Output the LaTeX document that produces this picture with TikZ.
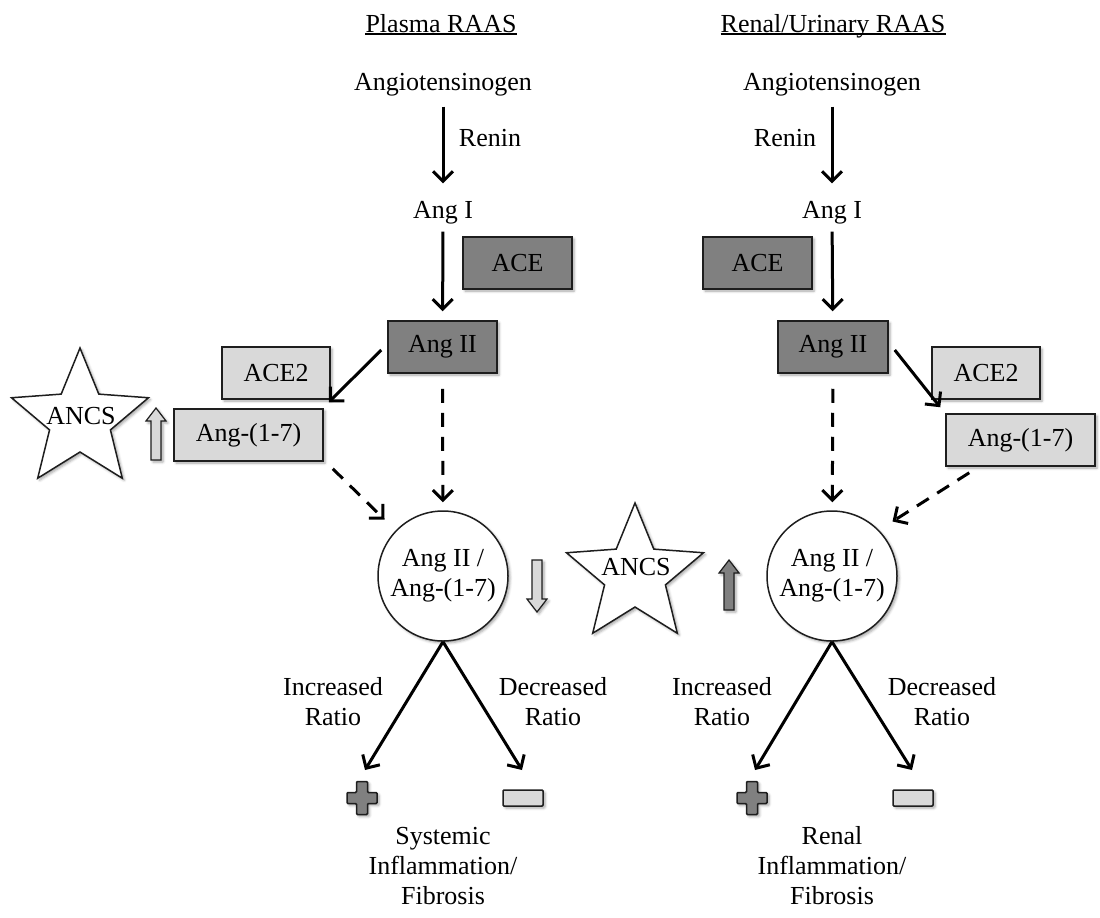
\documentclass[tikz,border=0pt]{standalone}
\usepackage{fontspec}
\setmainfont{Liberation Serif}
\usetikzlibrary{arrows.meta,shadows.blur}
\definecolor{darkbox}{RGB}{128,128,128}
\definecolor{lightbox}{RGB}{217,217,217}
\definecolor{edge}{RGB}{30,30,30}
\tikzset{
  lbl/.style={font=\fontsize{26}{30}\selectfont, inner sep=0pt, align=center},
  shd/.style={blur shadow={shadow xshift=2pt,shadow yshift=-2pt,shadow blur radius=2.5pt,shadow opacity=35}},
  boxbase/.style={lbl, draw=edge, line width=1.5pt, minimum height=52pt, shd},
  darkb/.style={boxbase, fill=darkbox},
  lightb/.style={boxbase, fill=lightbox},
  ring/.style={lbl, circle, draw=edge, line width=1.5pt, fill=white, minimum size=130pt, shd},
  starshape/.style={draw=edge, line width=1.5pt, fill=white, line join=miter, shd},
  arr/.style={line width=3pt, -{Straight Barb[length=10pt,width=20pt]}},
  darr/.style={arr, dash pattern=on 14pt off 10pt},
  hollow/.style={draw=edge, line width=1.2pt, shd},
  sign/.style={draw=edge, line width=1.5pt, rounded corners=1pt, shd},
  uline/.style={line width=1.1pt}
}
\begin{document}
\begin{tikzpicture}[x=1pt,y=-1pt]
\useasboundingbox (0,0) rectangle (1100,918);

% ---------- headings ----------
\node[lbl, anchor=base] (hL) at (441,32) {Plasma RAAS};
\node[lbl, anchor=base] (hR) at (833,32) {Renal/Urinary RAAS};
\draw[uline] ([yshift=-2pt]hL.base west) -- ([yshift=-2pt]hL.base east);
\draw[uline] ([yshift=-2pt]hR.base west) -- ([yshift=-2pt]hR.base east);

% ---------- stars (drawn shapes) ----------
\foreach \c in {(80,420),(635,575)}{
  \draw[starshape, shift={\c}] (-90:72)
    \foreach \k in {1,...,9}{ -- ({-90+36*\k}:{ifthenelse(mod(\k,2)==1,32,72)}) } -- cycle;
}
\node[lbl] (starL) at (81,416) {ANCS};
\node[lbl] (starR) at (636,567) {ANCS};

% ---------- left (plasma) ----------
\node[lbl] (agtL) at (443,85) {Angiotensinogen};
\node[lbl] (reninL) at (490,138) {Renin};
\node[lbl] (angIL) at (443,213) {Ang I};
\node[darkb, minimum width=109pt] (aceL) at (517.5,263) {ACE};
\node[darkb, minimum width=109pt] (angIIL) at (442.5,347) {Ang II};
\node[lightb, minimum width=108pt] (ace2L) at (276,373) {ACE2};
\node[lightb, minimum width=149pt] (a17L) at (248.5,435) {Ang-(1-7)};
\node[ring] (circL) at (443,576) {Ang II /\\Ang-(1-7)};
\node[lbl] (incL) at (333,702) {Increased\\Ratio};
\node[lbl] (decL) at (553,702) {Decreased\\Ratio};
\coordinate (pL) at (362,798);
\node[sign, fill=lightbox, minimum width=40pt, minimum height=16pt, inner sep=0pt] (mL) at (523,798) {};
\node[lbl] (outL) at (443,866) {Systemic\\Inflammation/\\Fibrosis};

% ---------- right (renal) ----------
\node[lbl] (agtR) at (832,85) {Angiotensinogen};
\node[lbl] (reninR) at (785,138) {Renin};
\node[lbl] (angIR) at (832,213) {Ang I};
\node[darkb, minimum width=109pt] (aceR) at (757.5,263) {ACE};
\node[darkb, minimum width=110pt] (angIIR) at (833,347) {Ang II};
\node[lightb, minimum width=108pt] (ace2R) at (986,373) {ACE2};
\node[lightb, minimum width=149pt] (a17R) at (1020.5,440) {Ang-(1-7)};
\node[ring] (circR) at (832,576) {Ang II /\\Ang-(1-7)};
\node[lbl] (incR) at (722,702) {Increased\\Ratio};
\node[lbl] (decR) at (942,702) {Decreased\\Ratio};
\coordinate (pR) at (752,798);
\node[sign, fill=lightbox, minimum width=40pt, minimum height=16pt, inner sep=0pt] (mR) at (913,798) {};
\node[lbl] (outR) at (832,866) {Renal\\Inflammation/\\Fibrosis};

% ---------- plus signs ----------
\foreach \p in {pL,pR}{
  \draw[sign, fill=darkbox, shift={(\p)}]
    (-5.5,-16.5) -- (5.5,-16.5) -- (5.5,-5.5) -- (15,-5.5) -- (15,5.5) -- (5.5,5.5)
    -- (5.5,16.5) -- (-5.5,16.5) -- (-5.5,5.5) -- (-15,5.5) -- (-15,-5.5) -- (-5.5,-5.5) -- cycle;
}

% ---------- hollow up/down arrows ----------
\draw[hollow, fill=lightbox, shift={(156,408)}]
  (-5,52) -- (-5,13) -- (-10,13) -- (0,0) -- (10,13) -- (5,13) -- (5,52) -- cycle;
\draw[hollow, fill=lightbox, shift={(537,612)}]
  (-5,-52) -- (-5,-13) -- (-10,-13) -- (0,0) -- (10,-13) -- (5,-13) -- (5,-52) -- cycle;
\draw[hollow, fill=darkbox, shift={(729,560)}]
  (-5,50) -- (-5,13) -- (-10,13) -- (0,0) -- (10,13) -- (5,13) -- (5,50) -- cycle;

% ---------- connectors left ----------
\draw[arr, shorten <=10pt, shorten >=18pt] (agtL) -- (angIL);
\draw[arr, shorten <=7pt, shorten >=9pt] (angIL) -- (angIIL);
\draw[arr] ([shift={(-6,3)}]angIIL.west) -- ([shift={(5,-6)}]a17L.north east);
\draw[darr, shorten <=15pt, shorten >=8pt] (angIIL) -- (circL);
\draw[darr] ([shift={(9,7)}]a17L.south east) -- ([shift={(-12,-10)}]circL.135);
\draw[arr] (circL.south) -- ([shift={(3,-28)}]pL);
\draw[arr] (circL.south) -- ([shift={(-1,-28)}]mL.center);

% ---------- connectors right ----------
\draw[arr, shorten <=10pt, shorten >=18pt] (agtR) -- (angIR);
\draw[arr, shorten <=7pt, shorten >=9pt] (angIR) -- (angIIR);
\draw[arr] ([shift={(6,3)}]angIIR.east) -- ([shift={(-5,-6)}]a17R.north west);
\draw[darr, shorten <=15pt, shorten >=8pt] (angIIR) -- (circR);
\draw[darr] ([shift={(24,6)}]a17R.south west) -- ([shift={(14,-8)}]circR.45);
\draw[arr] (circR.south) -- ([shift={(3,-28)}]pR);
\draw[arr] (circR.south) -- ([shift={(-1,-28)}]mR.center);
\end{tikzpicture}
\end{document}
